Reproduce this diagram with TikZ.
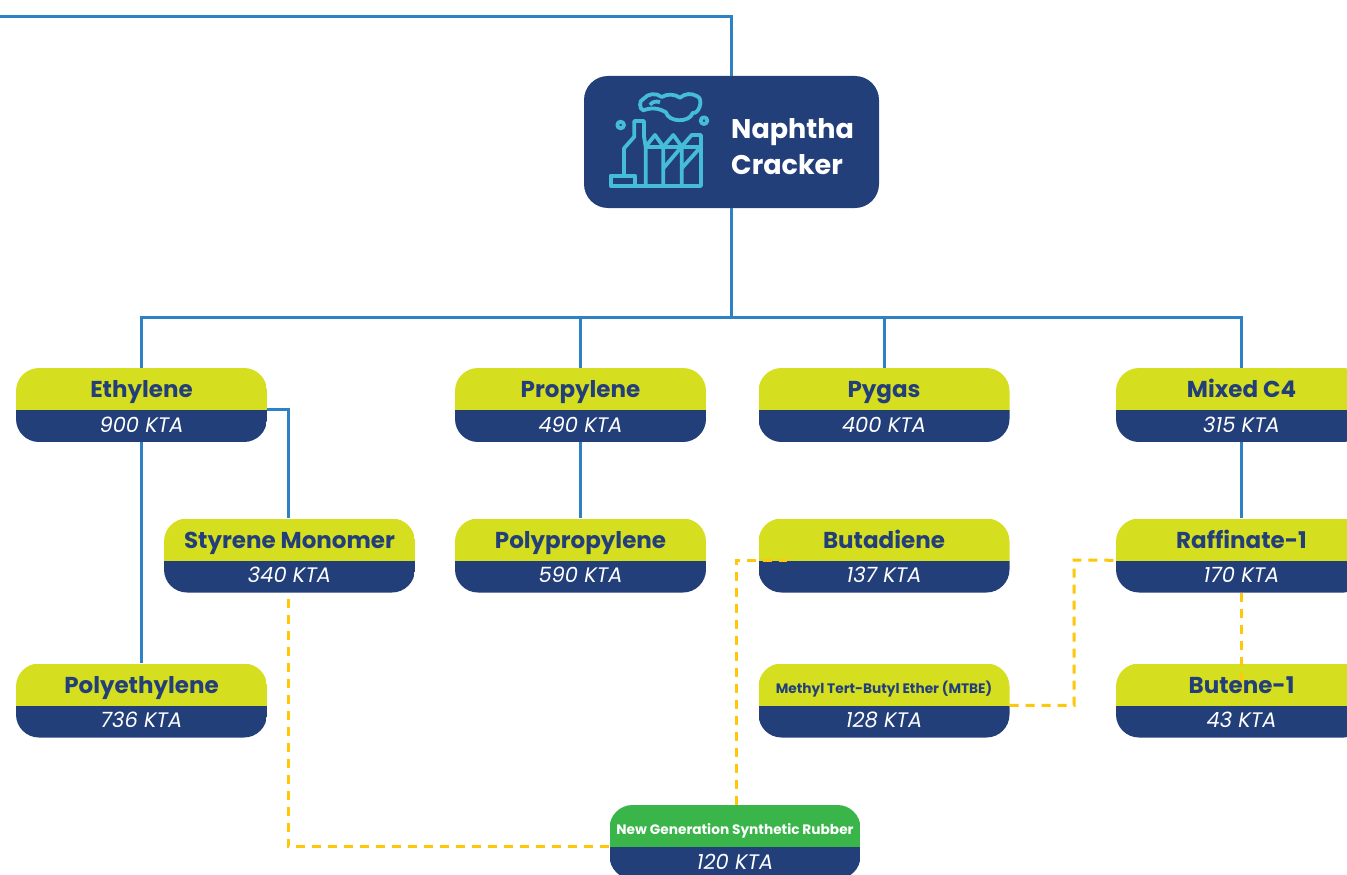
\documentclass[tikz,border=0pt]{standalone}
\usepackage{fontspec}
\setmainfont{Poppins}
\usetikzlibrary{calc}
\definecolor{navy}{HTML}{233F7A}
\definecolor{limebar}{HTML}{D6DF1F}
\definecolor{greenbar}{HTML}{39B54A}
\definecolor{mainblue}{HTML}{2E82C4}
\definecolor{linkyellow}{HTML}{FFC60A}
\definecolor{iconcyan}{HTML}{45BDD8}
\pgfdeclarelayer{front}
\pgfsetlayers{main,front}
\tikzset{
  mainline/.style={draw=mainblue,line width=3pt},
  linkline/.style={draw=linkyellow,line width=3pt,dash pattern=on 9pt off 7pt},
  prodbox/.style={rounded corners=23pt,minimum width=251pt,minimum height=74pt,inner sep=0pt},
  titletext/.style={text=navy,anchor=base,font=\fontsize{23}{26}\selectfont\bfseries,inner sep=0pt},
  valuetext/.style={text=white,anchor=base,font=\fontsize{21}{24}\selectfont\itshape,inner sep=0pt},
  iconline/.style={draw=iconcyan,line width=3.8pt,line join=round}
}
% box: bar colour, name, x, y, title, value
\newcommand{\prodnode}[6][limebar]{
  \node[prodbox,path picture={
    \fill[#1,sharp corners] (path picture bounding box.north west) rectangle ($(path picture bounding box.north east)+(0,42)$);
    \fill[navy,sharp corners] (path picture bounding box.south east) rectangle ($(path picture bounding box.north west)+(0,42)$);
  }] (#2) at (#3,#4) {};
  \coordinate (#2-w) at ($(#2.north west)+(0,42)$);
  \coordinate (#2-e) at ($(#2.north east)+(0,42)$);
  \begin{pgfonlayer}{front}
    \node[titletext] (#2-title) at ($(#2.north)+(0,30)$) {#5};
    \node[valuetext] (#2-value) at ($(#2.south)+(0,-10)$) {#6};
  \end{pgfonlayer}
}
\newcommand{\smalltitle}{\fontsize{13.7}{15}\selectfont}
\begin{document}
\begin{tikzpicture}[x=1pt,y=-1pt]
  \clip (0,0) rectangle (1347,875);

  \node[fill=navy,rounded corners=24pt,minimum width=295pt,minimum height=132pt,inner sep=0pt] (cracker) at (731.5,142) {};
  \node[anchor=west,text=white,align=left,inner sep=0pt,font=\fontsize{27}{36}\selectfont\bfseries] (crackerlabel) at (731,147) {Naphtha\\Cracker};

  % icon
  \begin{scope}[shift={(600,85)},scale=0.3333]
    \draw[iconline] (32,272) rectangle (105,303);
    \draw[iconline] (72,272) -- (72,190) -- (103,155) -- (103,108) -- (132,108) -- (132,155) -- (137,185);
    \draw[iconline] (105,303) -- (303,303) -- (303,150) -- (275,150) -- (245,185) -- (245,303);
    \draw[iconline] (137,303) -- (137,185) -- (165,150) -- (190,185) -- (190,303);
    \draw[iconline] (137,185) -- (303,185);
    \draw[iconline] (190,185) -- (220,150) -- (245,185);
    \draw[iconline] (190,250) -- (245,185);
    \draw[iconline] (245,250) -- (303,185);
    \draw[iconline] (62,120) circle (10);
    \draw[iconline] (312,107) circle (10);
    \draw[iconline] (130,76) to[bend left=80] (130,42) to[bend left=45] (185,36) to[bend left=30] (240,38) to[bend left=35] (292,34) to[bend left=85] (278,84) to[bend left=75] (198,82) to[bend right=25] (130,76) -- cycle;
    \draw[iconline] (150,60) to[bend left=40] (180,52);
  \end{scope}

  \prodnode{ethylene}{141.5}{405}{Ethylene}{900 KTA}
  \prodnode{propylene}{580.5}{405}{Propylene}{490 KTA}
  \prodnode{pygas}{884}{405}{Pygas}{400 KTA}
  \prodnode{mixed}{1241.5}{405}{Mixed C4}{315 KTA}
  \prodnode{styrene}{289.5}{555.5}{Styrene Monomer}{340 KTA}
  \prodnode{polypropylene}{580.5}{555.5}{Polypropylene}{590 KTA}
  \prodnode{butadiene}{884}{555.5}{Butadiene}{137 KTA}
  \prodnode{raffinate}{1241.5}{555.5}{Raffinate-1}{170 KTA}
  \prodnode{polyethylene}{141.5}{700.5}{Polyethylene}{736 KTA}
  \prodnode{mtbe}{884}{700.5}{\smalltitle Methyl Tert-Butyl Ether (MTBE)}{128 KTA}
  \prodnode{butene}{1241.5}{700.5}{Butene-1}{43 KTA}
  \prodnode[greenbar]{rubber}{735}{842}{\smalltitle\color{white} New Generation Synthetic Rubber}{120 KTA}

  \coordinate (feedin) at (-2,17);
  \coordinate (bus) at (731.5,317);
  \coordinate (butadieneend) at (787,560);
  \coordinate (buteneend) at (1241.5,692);

  \draw[mainline] (feedin) -| (cracker.north);
  \draw[mainline] (cracker.south) -- (bus);
  \draw[mainline] (ethylene.north) |- (bus);
  \draw[mainline] (propylene.north) |- (bus);
  \draw[mainline] (pygas.north) |- (bus);
  \draw[mainline] (mixed.north) |- (bus);
  \draw[mainline] (ethylene.south) -- (polyethylene.north);
  \draw[mainline] (ethylene-e) -| ([xshift=-1.5pt]styrene.north);
  \draw[mainline] (propylene.south) -- (polypropylene.north);
  \draw[mainline] (mixed.south) -- (raffinate.north);

  \draw[linkline] (rubber-w) -| ([xshift=-1.5pt]styrene.south);
  \draw[linkline] ([xshift=1pt]rubber.north) |- (butadieneend);
  \draw[linkline] (mtbe-e) -| (1074,560) -- (raffinate-w);
  \draw[linkline] (raffinate.south) -- (buteneend);
\end{tikzpicture}
\end{document}
